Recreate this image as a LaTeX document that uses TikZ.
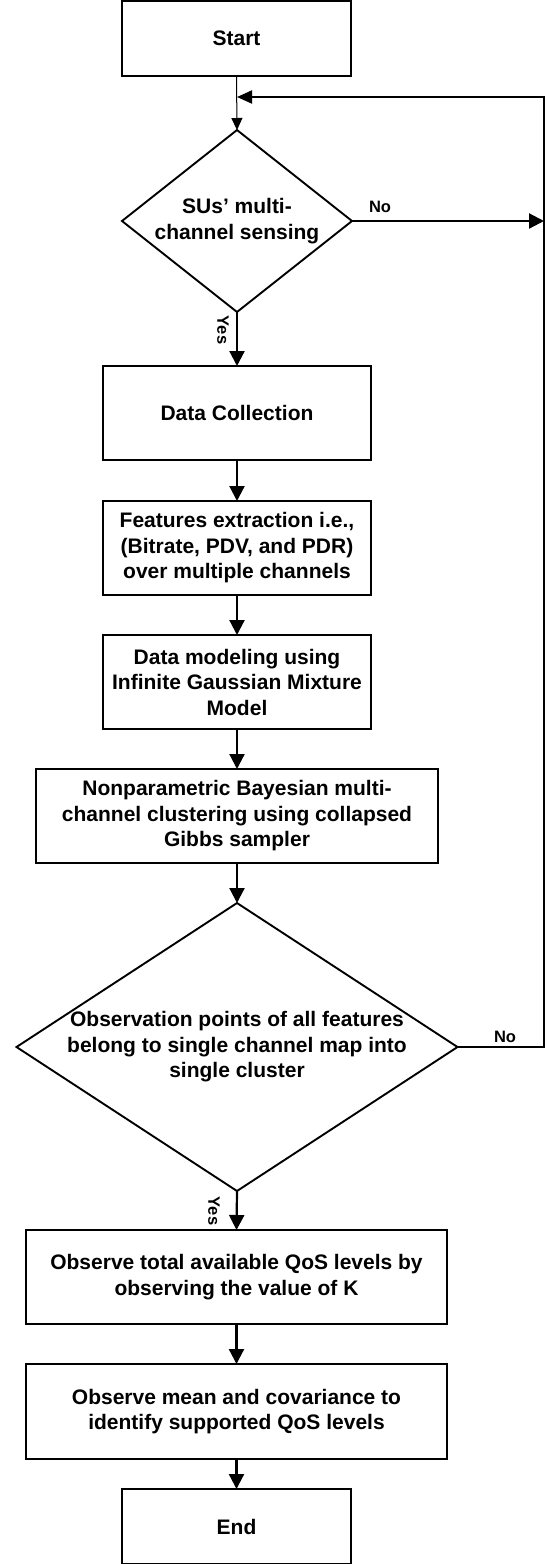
\documentclass[tikz,border=0pt]{standalone}
\usepackage{fontspec}
\setmainfont{Liberation Sans}
\usetikzlibrary{arrows.meta,shapes.geometric}
\tikzset{
  boxnode/.style={draw, line width=2.3pt, rectangle, inner sep=0pt, outer sep=0pt, align=center,
    font=\fontsize{21}{25.5}\selectfont\bfseries},
  decnode/.style={draw, line width=1.9pt, diamond, inner sep=0pt, outer sep=0pt},
  dectext/.style={align=center, inner sep=0pt, font=\fontsize{21}{25.5}\selectfont\bfseries},
  lbl/.style={inner sep=0pt, font=\fontsize{16.5}{18}\selectfont\bfseries},
  arr/.style={line width=2.2pt, -{Triangle[length=15pt,width=15pt]}},
  arrthin/.style={line width=1pt, -{Triangle[length=12pt,width=11pt]}},
}
\begin{document}
\begin{tikzpicture}[x=1pt,y=-1pt]
\useasboundingbox (0,0) rectangle (547,1564);
% nodes
\node[boxnode, minimum width=229pt, minimum height=75pt] (start) at (236.5,38.5) {Start};
\node[decnode, minimum width=230pt, minimum height=182pt] (d1) at (237,221) {};
\node[dectext] (d1t) at (237,221) {SUs’ multi-\\channel sensing};
\node[boxnode, minimum width=268pt, minimum height=94pt] (dc) at (237,413) {Data Collection};
\node[boxnode, minimum width=268pt, minimum height=94pt] (fe) at (237,548) {Features extraction i.e.,\\(Bitrate, PDV, and PDR)\\over multiple channels};
\node[boxnode, minimum width=268pt, minimum height=94pt] (dm) at (237,682) {Data modeling using\\Infinite Gaussian Mixture\\Model};
\node[boxnode, minimum width=402pt, minimum height=94pt] (np) at (237,816) {Nonparametric Bayesian multi-\\channel clustering using collapsed\\Gibbs sampler};
\node[decnode, minimum width=441pt, minimum height=288pt] (d2) at (237,1047) {};
\node[dectext] (d2t) at (237,1047) {Observation points of all features\\belong to single channel map into\\single cluster};
\node[boxnode, minimum width=421pt, minimum height=94pt] (ob1) at (236.5,1277) {Observe total available QoS levels by\\observing the value of K};
\node[boxnode, minimum width=421pt, minimum height=95pt] (ob2) at (236.5,1411.5) {Observe mean and covariance to\\identify supported QoS levels};
\node[boxnode, minimum width=229pt, minimum height=75pt] (end) at (236.5,1526.5) {End};
% helper coordinates
\coordinate (mg) at (237,97);
\coordinate (rt) at (544,97);
% connectors
\draw[arrthin] (start.south) -- (d1.north);
\draw[arr] (d1.east) -- (d1.east -| rt);
\draw[arr] (d1.south) -- (dc.north);
\draw[arr] (dc.south) -- (fe.north);
\draw[arr] (fe.south) -- (dm.north);
\draw[arr] (dm.south) -- (np.north);
\draw[arr] (np.south) -- (d2.north);
\draw[line width=2pt, -{Triangle[length=15pt,width=13pt]}] (d2.east) -- (d2.east -| rt) -- (rt) -- (mg);
\draw[arr] (d2.south) -- (ob1.north);
\draw[arr] (ob1.south) -- (ob2.north);
\draw[arr] (ob2.south) -- (end.north);
% labels
\node[lbl] (no1) at (380,207) {No};
\node[lbl] (no2) at (505,1037) {No};
\node[lbl, rotate=-90] (yes1) at (223,330) {Yes};
\node[lbl, rotate=-90] (yes2) at (214,1211) {Yes};
\end{tikzpicture}
\end{document}
